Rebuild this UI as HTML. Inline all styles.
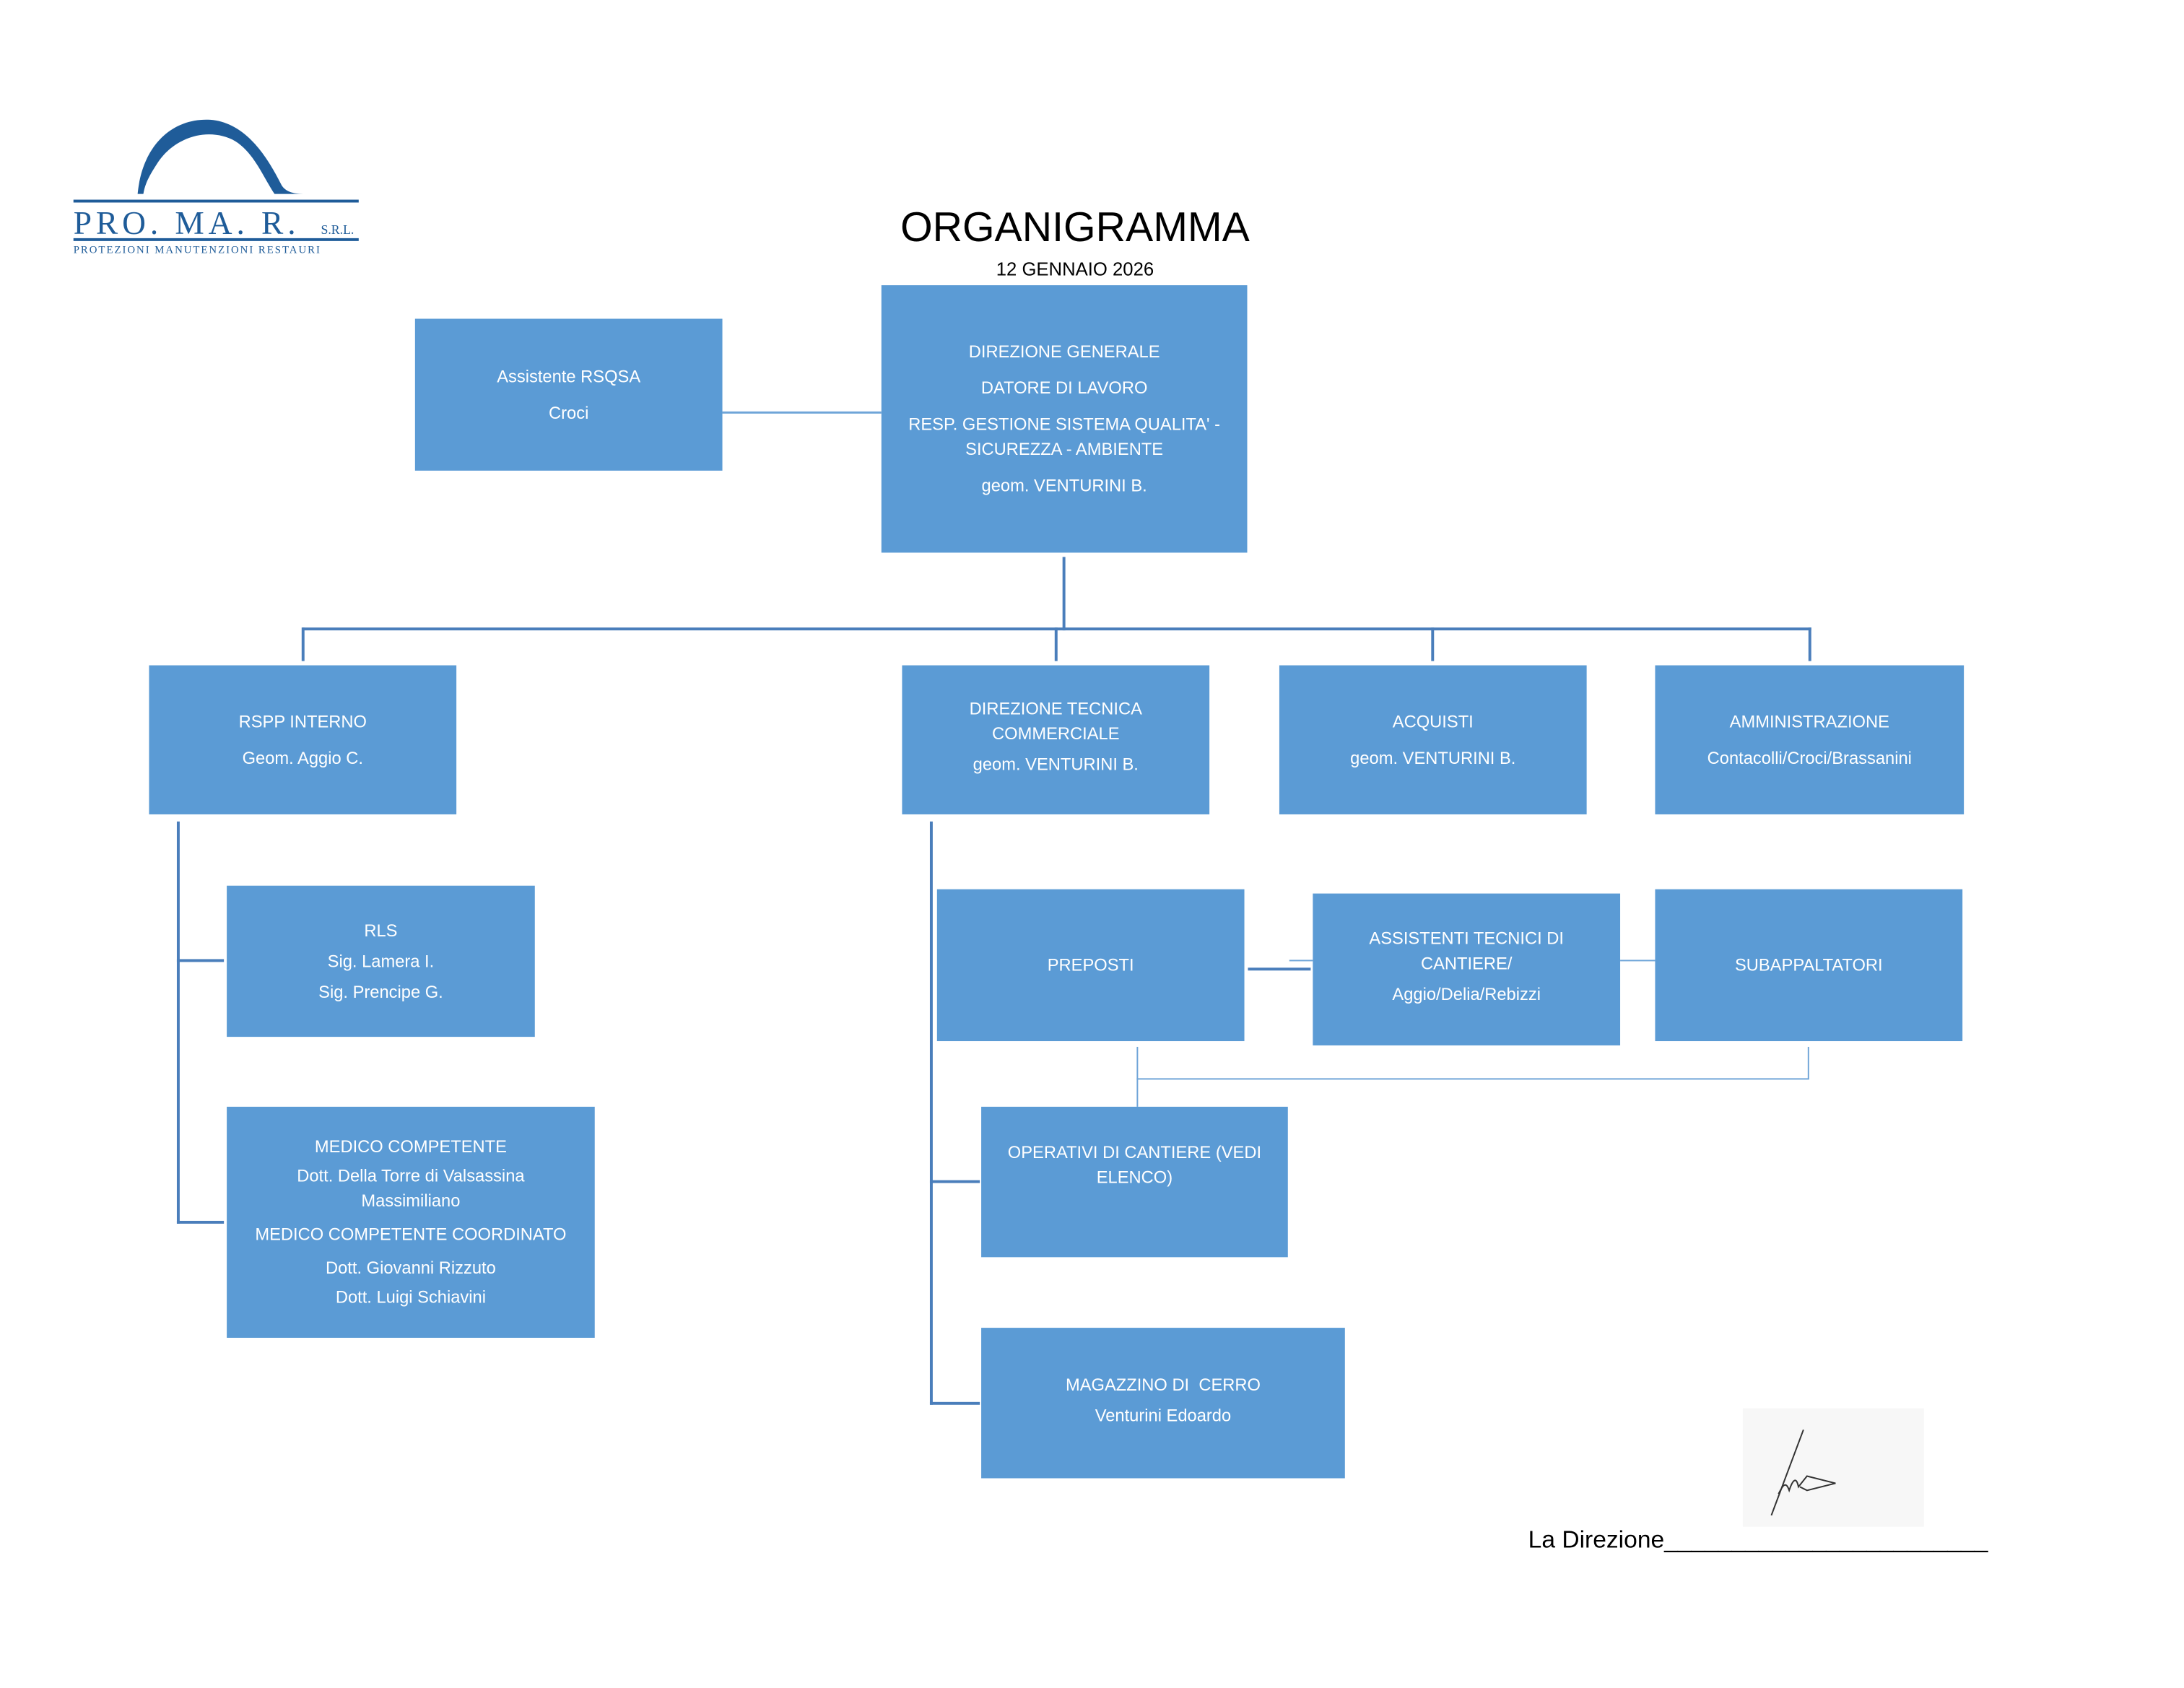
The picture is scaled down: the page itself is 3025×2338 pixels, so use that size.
<!DOCTYPE html>
<html><head><meta charset="utf-8"><style>
body{margin:0;width:3025px;height:2338px;background:#fff;position:relative;overflow:hidden;font-family:"Liberation Sans",sans-serif}
#w{position:absolute;left:0;top:0;width:3025px;height:2338px;transform:scale(0.9877);transform-origin:0 0}
.b{position:absolute;background:#5B9BD5;color:#fff;display:flex;flex-direction:column;justify-content:center;align-items:center;text-align:center;font-size:24px;line-height:35px;box-sizing:border-box;padding:0 8px}
.b p{margin:8px 0}
.l{position:absolute;background:#4A7EBB}
.t{position:absolute;background:#6FA5D8}
</style></head><body><div id="w">
<svg style="position:absolute;left:95px;top:160px" width="420" height="200">
<path d="M98 112 C105 40 150 5 200 8 C250 12 280 60 300 100 C305 108 315 112 330 112 L290 112 C275 90 262 55 235 38 C200 18 150 30 125 70 C112 90 108 100 106 112 Z" fill="#1F5C99"/>
<rect x="8" y="120" width="400" height="4" fill="#1F5C99"/>
<text x="8" y="168" font-family="Liberation Serif" font-size="46" fill="#1F5C99" letter-spacing="6">PRO. MA. R.</text>
<text x="355" y="168" font-family="Liberation Serif" font-size="18" fill="#1F5C99">S.R.L.</text>
<rect x="8" y="174" width="400" height="4" fill="#1F5C99"/>
<text x="8" y="195" font-family="Liberation Serif" font-size="15" fill="#1F5C99" letter-spacing="2">PROTEZIONI MANUTENZIONI RESTAURI</text>
</svg>
<div style="position:absolute;left:1200px;width:615px;top:285px;text-align:center;font-size:58px">ORGANIGRAMMA</div>
<div style="position:absolute;left:1200px;width:615px;top:362px;text-align:center;font-size:26px">12 GENNAIO 2026</div>

<div class="b" style="left:582px;top:447px;width:431px;height:213px"><p>Assistente RSQSA</p><p>Croci</p></div>
<div class="b" style="left:1236px;top:400px;width:513px;height:375px"><p>DIREZIONE GENERALE</p><p>DATORE DI LAVORO</p><p>RESP. GESTIONE SISTEMA QUALITA' -<br>SICUREZZA - AMBIENTE</p><p>geom. VENTURINI B.</p></div>
<div class="t" style="left:1013px;top:577px;width:223px;height:3px"></div>

<div class="l" style="left:1490px;top:781px;width:4px;height:103px"></div>
<div class="l" style="left:424px;top:880px;width:2116px;height:4px"></div>
<div class="l" style="left:423px;top:880px;width:4px;height:47px"></div>
<div class="l" style="left:1479px;top:880px;width:4px;height:47px"></div>
<div class="l" style="left:2007px;top:880px;width:4px;height:47px"></div>
<div class="l" style="left:2536px;top:880px;width:4px;height:47px"></div>

<div class="b" style="left:209px;top:933px;width:431px;height:209px"><p>RSPP INTERNO</p><p>Geom. Aggio C.</p></div>
<div class="b" style="left:1265px;top:933px;width:431px;height:209px"><p style="margin:0">DIREZIONE TECNICA<br>COMMERCIALE</p><p>geom. VENTURINI B.</p></div>
<div class="b" style="left:1794px;top:933px;width:431px;height:209px"><p>ACQUISTI</p><p>geom. VENTURINI B.</p></div>
<div class="b" style="left:2321px;top:933px;width:433px;height:209px"><p>AMMINISTRAZIONE</p><p>Contacolli/Croci/Brassanini</p></div>

<div class="l" style="left:248px;top:1152px;width:4px;height:564px"></div>
<div class="l" style="left:248px;top:1345px;width:66px;height:4px"></div>
<div class="l" style="left:248px;top:1712px;width:66px;height:4px"></div>
<div class="b" style="left:318px;top:1242px;width:432px;height:212px"><p>RLS</p><p style="margin:0">Sig. Lamera I.</p><p>Sig. Prencipe G.</p></div>
<div class="b" style="left:318px;top:1552px;width:516px;height:324px"><p style="margin:0">MEDICO COMPETENTE</p><p style="margin:6px 0">Dott. Della Torre di Valsassina<br>Massimiliano</p><p style="margin:6px 0">MEDICO COMPETENTE COORDINATO</p><p style="margin:6px 0">Dott. Giovanni Rizzuto</p><p style="margin:0">Dott. Luigi Schiavini</p></div>

<div class="l" style="left:1304px;top:1152px;width:4px;height:818px"></div>
<div class="l" style="left:1304px;top:1655px;width:70px;height:4px"></div>
<div class="l" style="left:1304px;top:1966px;width:70px;height:4px"></div>
<div class="b" style="left:1314px;top:1247px;width:431px;height:213px"><p>PREPOSTI</p></div>
<div class="b" style="left:1841px;top:1253px;width:431px;height:213px"><p style="margin:0">ASSISTENTI TECNICI DI<br>CANTIERE/</p><p>Aggio/Delia/Rebizzi</p></div>
<div class="b" style="left:2321px;top:1247px;width:431px;height:213px"><p>SUBAPPALTATORI</p></div>
<div class="l" style="left:1750px;top:1357px;width:88px;height:4px"></div>
<div class="t" style="left:1808px;top:1346px;width:33px;height:2px"></div>
<div class="t" style="left:2272px;top:1346px;width:49px;height:2px"></div>
<div class="t" style="left:1594px;top:1468px;width:2px;height:84px"></div>
<div class="t" style="left:1594px;top:1512px;width:943px;height:2px"></div>
<div class="t" style="left:2535px;top:1468px;width:2px;height:45px"></div>
<div class="b" style="left:1376px;top:1552px;width:430px;height:211px"><p style="margin-top:-40px">OPERATIVI DI CANTIERE (VEDI<br>ELENCO)</p></div>
<div class="b" style="left:1376px;top:1862px;width:510px;height:211px"><p style="margin:0">MAGAZZINO DI &nbsp;CERRO</p><p>Venturini Edoardo</p></div>

<div style="position:absolute;left:2444px;top:1975px;width:254px;height:166px;background:#f7f7f7"></div>
<svg style="position:absolute;left:2444px;top:1975px" width="254" height="166"><path d="M85 30 L40 150 M50 120 C55 110 60 100 65 115 C70 100 75 95 78 110 L90 95 L130 105 L90 115 L80 110" stroke="#333" stroke-width="2" fill="none"/></svg>
<div style="position:absolute;left:2143px;top:2140px;font-size:34px;white-space:nowrap">La Direzione________________________</div>
</div></body></html>
